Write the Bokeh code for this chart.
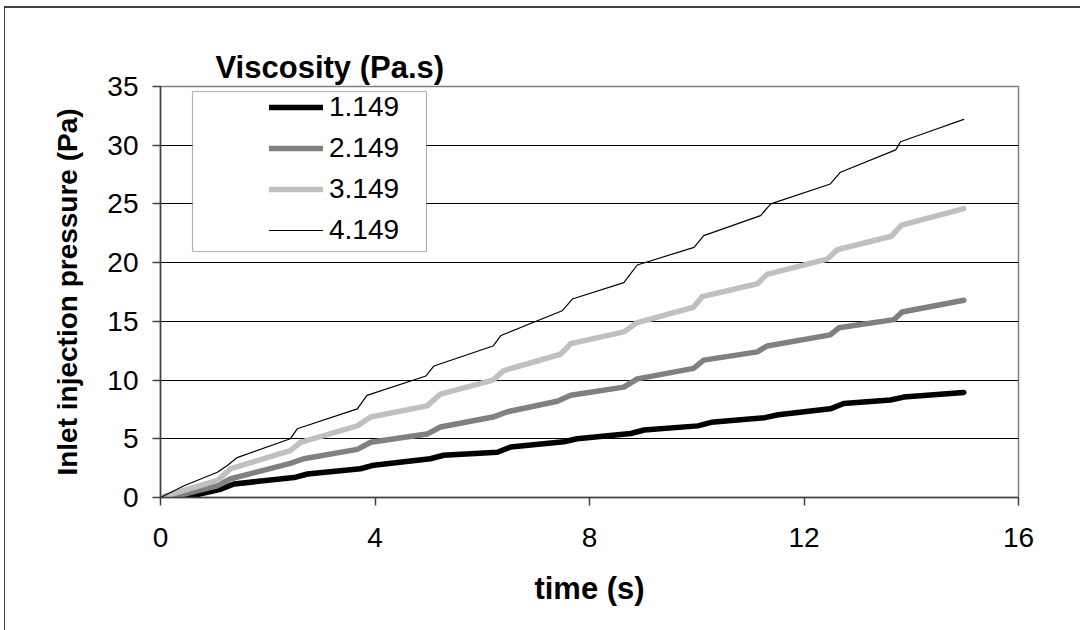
from bokeh.plotting import figure
from bokeh.models import Legend, LegendItem, FixedTicker, Range1d, BoxAnnotation
from bokeh.embed import file_html
from bokeh.resources import INLINE

# ---- data ----
t_1149 = [0, 0.44, 1.12, 1.37, 2.49, 2.74, 3.73, 3.98, 5.03, 5.28, 6.28, 6.53, 7.52, 7.77,
          8.77, 9.02, 10.02, 10.27, 11.27, 11.52, 12.49, 12.74, 13.61, 13.86, 14.98]
p_1149 = [0, 0, 0.7, 1.15, 1.7, 2.0, 2.45, 2.75, 3.3, 3.6, 3.85, 4.3, 4.75, 5.0,
          5.45, 5.75, 6.1, 6.4, 6.8, 7.05, 7.55, 8.0, 8.3, 8.55, 8.95]

t_2149 = [0, 0.19, 1.06, 1.31, 2.42, 2.67, 3.67, 3.92, 4.97, 5.22, 6.2, 6.47, 7.4, 7.65,
          8.64, 8.89, 9.94, 10.13, 11.13, 11.31, 12.49, 12.65, 13.68, 13.83, 14.98]
p_2149 = [0, 0, 1.0, 1.6, 2.9, 3.3, 4.1, 4.7, 5.4, 6.0, 6.85, 7.3, 8.2, 8.7,
          9.4, 10.1, 11.0, 11.7, 12.4, 12.9, 13.85, 14.45, 15.15, 15.8, 16.8]

t_3149 = [0, 1.06, 1.31, 2.42, 2.61, 3.67, 3.92, 4.97, 5.22, 6.2, 6.4, 7.46, 7.65,
          8.64, 8.89, 9.94, 10.1, 11.13, 11.31, 12.43, 12.62, 13.63, 13.82, 14.98]
p_3149 = [0, 1.45, 2.45, 4.0, 4.7, 6.1, 6.85, 7.8, 8.8, 10.0, 10.8, 12.2, 13.1,
          14.1, 14.9, 16.2, 17.1, 18.2, 19.0, 20.3, 21.1, 22.25, 23.2, 24.6]

t_4149 = [0, 0.44, 1.06, 1.24, 1.43, 2.42, 2.55, 3.67, 3.85, 4.95, 5.1, 6.2, 6.35, 7.49, 7.68,
          8.64, 8.89, 9.95, 10.13, 11.19, 11.38, 12.49, 12.68, 13.71, 13.8, 14.3, 14.98]
p_4149 = [0, 1.0, 2.15, 2.7, 3.4, 5.0, 5.85, 7.55, 8.7, 10.35, 11.2, 12.9, 13.8, 15.9, 16.9,
          18.3, 19.8, 21.3, 22.3, 24.0, 25.0, 26.7, 27.7, 29.6, 30.3, 31.1, 32.2]

series_names = ["1.149", "2.149", "3.149", "4.149"]
legend_title = "Viscosity (Pa.s)"
x_ticks = [0, 4, 8, 12, 16]
y_ticks = [0, 5, 10, 15, 20, 25, 30, 35]

FONT = "Liberation Sans"

p = figure(frame_width=858, frame_height=411,
           min_border_left=155, min_border_right=62, min_border_top=78, min_border_bottom=133,
           x_range=Range1d(0, 16), y_range=Range1d(0, 35),
           output_backend="svg", toolbar_location=None,
           background_fill_color="white", border_fill_color="white")
p.styles = {"border-left": "1px solid #404040", "border-top": "2px solid #404040",
            "margin-left": "4px", "margin-top": "6px"}

# legend title drawn Excel-style, above the legend box
p.title.text = legend_title
p.title.align = "left"
p.title.offset = 55
p.title.standoff = 4
p.title.text_font = FONT
p.title.text_font_size = "31px"
p.title.text_font_style = "bold"
p.title.text_color = "black"

p.outline_line_color = "#808080"
p.outline_line_width = 1.5

p.xgrid.visible = False
p.ygrid.grid_line_color = "black"
p.ygrid.grid_line_width = 1
p.ygrid.ticker = FixedTicker(ticks=y_ticks)

p.xaxis.ticker = FixedTicker(ticks=x_ticks)
p.yaxis.ticker = FixedTicker(ticks=y_ticks)
for ax in (p.xaxis[0], p.yaxis[0]):
    ax.axis_line_color = "#404040"
    ax.axis_line_width = 1.5
    ax.major_tick_line_color = "#404040"
    ax.major_tick_line_width = 1.5
    ax.major_tick_out = 8
    ax.major_tick_in = 0
    ax.minor_tick_out = 0
    ax.minor_tick_in = 0
    ax.major_label_text_font = FONT
    ax.major_label_text_font_size = "28px"
    ax.major_label_text_color = "black"
    ax.axis_label_text_font = FONT
    ax.axis_label_text_font_style = "bold"
    ax.axis_label_text_color = "black"

p.xaxis.axis_label = "time (s)"
p.yaxis.axis_label = "Inlet injection pressure (Pa)"
p.xaxis.axis_label_text_font_size = "31px"
p.yaxis.axis_label_text_font_size = "28px"
p.xaxis.major_label_standoff = 22
p.yaxis.major_label_standoff = 14
p.xaxis.axis_label_standoff = 21
p.yaxis.axis_label_standoff = 21

r1 = p.line(t_1149, p_1149, line_color="black", line_width=5.5, line_join="round", line_cap="round")
r2 = p.line(t_2149, p_2149, line_color="#808080", line_width=5.5, line_join="round", line_cap="round")
r3 = p.line(t_3149, p_3149, line_color="#c0c0c0", line_width=5.5, line_join="round", line_cap="round")
r4 = p.line(t_4149, p_4149, line_color="black", line_width=1.2, line_join="round", line_cap="round")

# legend frame
box = BoxAnnotation(left=186, right=420, top=81, bottom=241,
                    left_units="canvas", right_units="canvas", top_units="canvas", bottom_units="canvas",
                    fill_color="white", fill_alpha=1.0, line_color="black", line_width=1.2, level="overlay")
p.add_layout(box)

legend = Legend(items=[LegendItem(label=n, renderers=[r]) for n, r in zip(series_names, [r1, r2, r3, r4])],
                location=(109, 251), orientation="vertical",
                border_line_alpha=0, background_fill_alpha=0,
                padding=0, margin=0, spacing=9, glyph_width=54, glyph_height=30,
                label_height=30, label_standoff=6,
                label_text_font=FONT, label_text_font_size="28px", label_text_color="black")
p.add_layout(legend, "center")

open("out.html", "w").write(file_html(p, INLINE))
